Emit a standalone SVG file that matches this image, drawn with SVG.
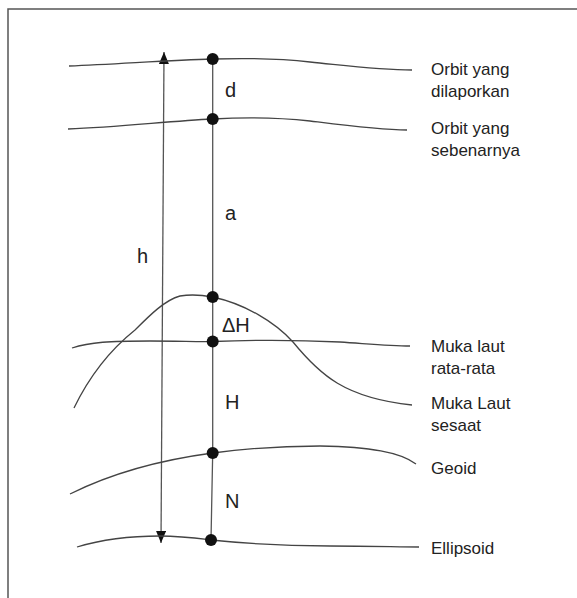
<svg xmlns="http://www.w3.org/2000/svg" width="577" height="598" viewBox="0 0 577 598">
<defs>
<style>
.frame{fill:none;stroke:#555;stroke-width:1.5}
.surf{fill:none;stroke:#444;stroke-width:1.3}
.vert{fill:none;stroke:#555;stroke-width:1.3}
.dot{fill:#111}
.lbl{font-family:"Liberation Sans",Arial,sans-serif;font-size:17px;fill:#222}
.sym{font-family:"Liberation Sans",Arial,sans-serif;font-size:20px;fill:#222}
</style>
<marker id="ah" viewBox="0 0 12 10" refX="12" refY="5" markerWidth="12" markerHeight="10" markerUnits="userSpaceOnUse" orient="auto">
<path d="M0,0 L12,5 L0,10 Z" fill="#111"/>
</marker>
</defs>
<rect width="577" height="598" fill="#fff"/>
<path class="frame" d="M8,598 L8,9 L577,9"/>

<g id="connectors">
<path class="vert" d="M212.7,59 L212.7,453 L211,540"/>
<path class="vert" d="M162.5,297 L164,52" marker-end="url(#ah)"/>
<path class="vert" d="M162.5,297 L161,543" marker-end="url(#ah)"/>
</g>

<g id="orbit-dilaporkan">
<path class="surf" d="M69,66 C120,64 170,60 212.7,59 C245,58 275,58 310,62 C350,66 380,70 412,70"/>
<circle class="dot" cx="212.7" cy="59" r="6"/>
<text class="lbl" x="431" y="75">Orbit yang</text>
<text class="lbl" x="431" y="97">dilaporkan</text>
</g>

<g id="orbit-sebenarnya">
<path class="surf" d="M68,129 C120,127 170,121 212.7,119 C245,117 275,117 310,121 C350,126 380,130 407,130"/>
<circle class="dot" cx="212.7" cy="119" r="6"/>
<text class="lbl" x="431" y="134">Orbit yang</text>
<text class="lbl" x="431" y="156">sebenarnya</text>
</g>

<g id="muka-laut-sesaat">
<path class="surf" d="M74,408 C90,375 110,350 135,330 C150,315 165,300 180,296 C192,294 202,295 212.7,297 C245,304 275,322 293,342 C320,375 345,398 412,405"/>
<circle class="dot" cx="212.7" cy="297" r="6"/>
<text class="lbl" x="431" y="409">Muka Laut</text>
<text class="lbl" x="431" y="431">sesaat</text>
</g>

<g id="muka-laut-rata">
<path class="surf" d="M72,348 C90,342 110,341 150,341 C180,341 200,342 212.7,341.5 C250,340 300,340 340,342 C370,344 390,346 410,346"/>
<circle class="dot" cx="212.7" cy="341.5" r="6"/>
<text class="lbl" x="431" y="352">Muka laut</text>
<text class="lbl" x="431" y="374">rata-rata</text>
</g>

<g id="geoid">
<path class="surf" d="M70,494 C110,474 160,460 212.7,453 C250,448 290,446 320,446 C370,447 400,452 416,464"/>
<circle class="dot" cx="212.7" cy="453" r="6"/>
<text class="lbl" x="431" y="474">Geoid</text>
</g>

<g id="ellipsoid">
<path class="surf" d="M77,547 C100,540 130,536 160,536 C180,536 195,538 211,540 C250,544 290,546 330,546 C370,546 400,547 419,547"/>
<circle class="dot" cx="211" cy="540" r="6"/>
<text class="lbl" x="431" y="554">Ellipsoid</text>
</g>

<g id="labels">
<text class="sym" x="225" y="97">d</text>
<text class="sym" x="225" y="220">a</text>
<text class="sym" x="137" y="263">h</text>
<text class="sym" x="222" y="332">ΔH</text>
<text class="sym" x="225" y="409">H</text>
<text class="sym" x="225" y="508">N</text>
</g>
</svg>
